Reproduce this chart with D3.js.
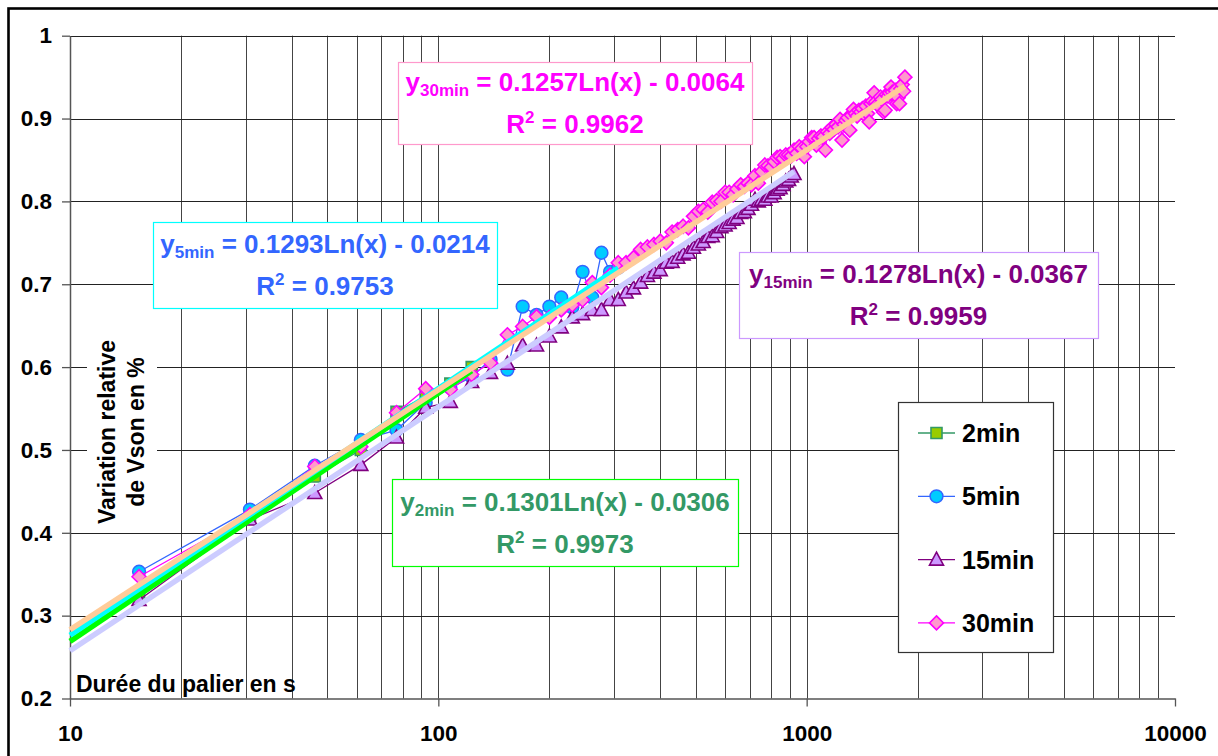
<!DOCTYPE html>
<html><head><meta charset="utf-8">
<script src="https://cdn.jsdelivr.net/npm/d3@7"></script>
<style>
body{margin:0;background:#fff}
svg{display:block}
text{font-family:"Liberation Sans",Arial,Helvetica,sans-serif;font-weight:bold}
</style>
</head><body>
<svg id="c" width="1218" height="756"></svg>
<script>
// ---------------- DATA ----------------
const durations = [15.4,30.8,46.2,61.6,77,92.4,107.8,123.2,138.6,154,169.4,184.8,200.2,215.6,231,246.4,261.8,277.2,292.6,308,
323.4,338.8,354.2,369.6,385,400.4,415.8,431.2,446.6,462,477.4,492.8,508.2,523.6,539,554.4,569.8,585.2,600.6,616,
631.4,646.8,662.2,677.6,693,708.4,723.8,739.2,754.6,770,785.4,800.8,816.2,831.6,847,862.4,877.8,893.2,908.6,924,
939.4,954.8,970.2,985.6,1001,1016.4,1031.8,1047.2,1062.6,1078,1093.4,1108.8,1124.2,1139.6,1155,1170.4,1185.8,1201.2,1216.6,1232,
1247.4,1262.8,1278.2,1293.6,1309,1324.4,1339.8,1355.2,1370.6,1386,1401.4,1416.8,1432.2,1447.6,1463,1478.4,1493.8,1509.2,1524.6,1540,
1555.4,1570.8,1586.2,1601.6,1617,1632.4,1647.8,1663.2,1678.6,1694,1709.4,1724.8,1740.2,1755.6,1771,1786.4,1801.8,1817.2,1832.6,1848];

const seriesNames = ["2min","5min","15min","30min"];

const values2min = [0.328,0.418,0.468,0.500,0.546,0.565,0.580,0.600];

const values5min = [0.353,0.428,0.481,0.512,0.524,0.557,0.575,0.588,0.609,0.597,
0.673,0.663,0.673,0.684,0.672,0.715,0.684,0.738,0.715,0.720];

const values15min = [0.319,0.416,0.448,0.482,0.515,0.551,0.558,0.582,0.593,0.604,
0.626,0.626,0.637,0.648,0.660,0.664,0.669,0.669,0.681,0.681,
0.690,0.695,0.702,0.710,0.714,0.717,0.726,0.727,0.732,0.736,
0.738,0.744,0.748,0.751,0.757,0.758,0.763,0.769,0.771,0.774,
0.778,0.780,0.786,0.787,0.791,0.796,0.802,0.800,0.802,0.802,
0.806,0.806,0.810,0.814,0.816,0.820,0.824,0.826,0.830,0.833];

const values30min = [0.347,0.422,0.480,0.504,0.545,0.574,0.573,0.591,0.605,0.639,
0.649,0.661,0.660,0.669,0.675,0.681,0.702,0.696,0.711,0.726,
0.726,0.732,0.742,0.745,0.748,0.752,0.750,0.763,0.766,0.770,
0.768,0.782,0.788,0.790,0.787,0.799,0.801,0.800,0.811,0.811,
0.808,0.815,0.820,0.818,0.822,0.820,0.831,0.822,0.836,0.844,
0.843,0.841,0.848,0.853,0.854,0.852,0.856,0.856,0.855,0.862,
0.858,0.866,0.864,0.854,0.866,0.872,0.877,0.877,0.868,0.876,
0.879,0.878,0.862,0.884,0.882,0.889,0.887,0.893,0.890,0.899,
0.874,0.893,0.898,0.901,0.886,0.904,0.911,0.906,0.903,0.910,
0.908,0.912,0.905,0.915,0.906,0.896,0.918,0.921,0.931,0.920,
0.917,0.915,0.926,0.923,0.908,0.910,0.929,0.927,0.931,0.938,
0.932,0.928,0.934,0.918,0.925,0.918,0.936,0.941,0.933,0.950];

const fitSlopes = [0.1301,0.1293,0.1278,0.1257];
const fitIntercepts = [-0.0306,-0.0214,-0.0367,-0.0064];
const fitR2 = ["0.9973","0.9753","0.9959","0.9962"];

const xTickValues = [10,100,1000,10000];
const yTickValues = [0.2,0.3,0.4,0.5,0.6,0.7,0.8,0.9,1];
const xAxisTitle = "Durée du palier en s";
const yAxisTitle = ["Variation relative","de Vson en %"];

// ---------------- CHART ----------------
const allValues = [values2min, values5min, values15min, values30min];
const series = seriesNames.map((name,i)=>({
  name,
  points: allValues[i].map((v,j)=>({x:durations[j], y:v}))
}));

const svg = d3.select("#c");
const x = d3.scaleLog().domain([10,10000]).range([70,1175]);
const y = d3.scaleLinear().domain([0.2,1]).range([698.5,35.7]);

// outer frame (cropped on right/bottom)
svg.append("rect").attr("x",8.5).attr("y",8.5).attr("width",1400).attr("height",1000)
  .attr("fill","#fff").attr("stroke","#000").attr("stroke-width",2.6);

// gridlines
const grid = svg.append("g");
const minorX = x.ticks().filter(d=>d>10 && d<10000);
grid.selectAll("line.vx").data(minorX).join("line")
  .attr("x1",d=>Math.round(x(d))+0.5).attr("x2",d=>Math.round(x(d))+0.5)
  .attr("y1",y(1)).attr("y2",y(0.2))
  .attr("stroke","#444").attr("stroke-width",1);
grid.selectAll("line.hy").data(yTickValues.filter(d=>d>0.2)).join("line")
  .attr("x1",x(10)).attr("x2",x(10000))
  .attr("y1",d=>Math.round(y(d))+0.5).attr("y2",d=>Math.round(y(d))+0.5)
  .attr("stroke","#222").attr("stroke-width",1);

// axes
const yAxis = svg.append("g").attr("transform",`translate(${x(10)},0)`)
  .call(d3.axisLeft(y).tickValues(yTickValues).tickSize(8).tickSizeOuter(0).tickPadding(10).tickFormat(d3.format("")));
const xAxis = svg.append("g").attr("transform",`translate(0,${y(0.2)})`)
  .call(d3.axisBottom(x).tickValues(xTickValues).tickSize(8).tickSizeOuter(0).tickPadding(19).tickFormat(d3.format("")));
[yAxis,xAxis].forEach(a=>{
  a.select(".domain").attr("stroke","#555").attr("stroke-width",1.5);
  a.selectAll(".tick line").attr("stroke","#555").attr("stroke-width",1.3);
  a.selectAll(".tick text").attr("fill","#000").style("font-size","22.5px")
   .style("font-family",'"Liberation Sans",Arial,sans-serif').style("font-weight","bold");
});

// y axis title (with white background)
svg.append("rect").attr("x",87).attr("y",333).attr("width",70).attr("height",198).attr("fill","#fff");
yAxisTitle.forEach((t,i)=>{
  svg.append("text").attr("transform",`translate(${115+i*29},432) rotate(-90)`)
    .attr("text-anchor","middle").style("font-size","23px").attr("fill","#000").text(t);
});
// x axis title
svg.append("text").attr("x",76).attr("y",692).style("font-size","23px").attr("fill","#000").text(xAxisTitle);

// styles
const lineColors = ["#339966","#3366FF","#800080","#FF00FF"];
const markFill = ["#99CC00","#00CCFF","#CC99FF","#FF99CC"];
const trendColors = ["#00FF00","#00FFFF","#CCCCFF","#FFCC99"];
const textColors = ["#339966","#3366FF","#800080","#FF00FF"];
const boxColors = ["#00FF00","#00FFFF","#CC99FF","#FF99CC"];
const markerPath = [
  "M-5.5,-5.5H5.5V5.5H-5.5Z",
  null,
  "M0,-7.5L7,5.5L-7,5.5Z",
  "M0,-7L7,0L0,7L-7,0Z"
];
function drawMarker(g,i){
  if(i===1){
    g.append("circle").attr("r",6.4).attr("fill",markFill[i]).attr("stroke",lineColors[i]).attr("stroke-width",1.5);
  } else {
    g.append("path").attr("d",markerPath[i]).attr("fill",markFill[i]).attr("stroke",lineColors[i]).attr("stroke-width",1.6);
  }
}

// series
const line = d3.line().x(d=>x(d.x)).y(d=>y(d.y));
series.forEach((s,i)=>{
  const g = svg.append("g");
  g.append("path").datum(s.points).attr("d",line).attr("fill","none")
    .attr("stroke",lineColors[i]).attr("stroke-width",1.3);
  g.selectAll("g.m").data(s.points).join("g")
    .attr("transform",d=>`translate(${x(d.x)},${y(d.y)})`)
    .each(function(){ drawMarker(d3.select(this),i); });
});

// trendlines (logarithmic fits, from the chart's equations)
series.forEach((s,i)=>{
  const xEnd = s.points[s.points.length-1].x;
  const pts = [10, xEnd].map(v=>({x:v, y:fitSlopes[i]*Math.log(v)+fitIntercepts[i]}));
  svg.append("path").datum(pts).attr("d",line).attr("fill","none")
    .attr("stroke",trendColors[i]).attr("stroke-width",5.5);
});

// equation boxes
const boxes = [
  {x:392,y:479,w:346,h:87},
  {x:153,y:222,w:344,h:86},
  {x:739,y:252,w:359,h:86},
  {x:398,y:62,w:354,h:82}
];
seriesNames.forEach((name,i)=>{
  const b = boxes[i];
  const g = svg.append("g");
  g.append("rect").attr("x",b.x+0.5).attr("y",b.y+0.5).attr("width",b.w).attr("height",b.h)
    .attr("fill","#fff").attr("stroke",boxColors[i]).attr("stroke-width",1.2);
  const cx = b.x + b.w/2, cy = b.y + b.h/2;
  const t1 = g.append("text").attr("x",cx).attr("y",cy-12).attr("text-anchor","middle")
    .attr("fill",textColors[i]).style("font-size","26px");
  t1.append("tspan").text("y");
  t1.append("tspan").attr("dy",5).style("font-size","17px").text(name);
  t1.append("tspan").attr("dy",-5).text(` = ${fitSlopes[i].toFixed(4)}Ln(x) - ${Math.abs(fitIntercepts[i]).toFixed(4)}`);
  const t2 = g.append("text").attr("x",cx).attr("y",cy+30).attr("text-anchor","middle")
    .attr("fill",textColors[i]).style("font-size","26px");
  t2.append("tspan").text("R");
  t2.append("tspan").attr("dy",-10).style("font-size","17px").text("2");
  t2.append("tspan").attr("dy",10).text(` = ${fitR2[i]}`);
});

// legend
const lg = svg.append("g");
lg.append("rect").attr("x",898.5).attr("y",402.5).attr("width",155).attr("height",250)
  .attr("fill","#fff").attr("stroke","#333").attr("stroke-width",1.2);
seriesNames.forEach((name,i)=>{
  const ly = 433 + i*63.3;
  lg.append("line").attr("x1",918).attr("x2",955).attr("y1",ly).attr("y2",ly)
    .attr("stroke",lineColors[i]).attr("stroke-width",1.3);
  drawMarker(lg.append("g").attr("transform",`translate(936.5,${ly})`), i);
  lg.append("text").attr("x",962).attr("y",ly).attr("dy","0.36em").style("font-size","25px")
    .attr("fill","#000").text(name);
});
</script>
</body></html>
